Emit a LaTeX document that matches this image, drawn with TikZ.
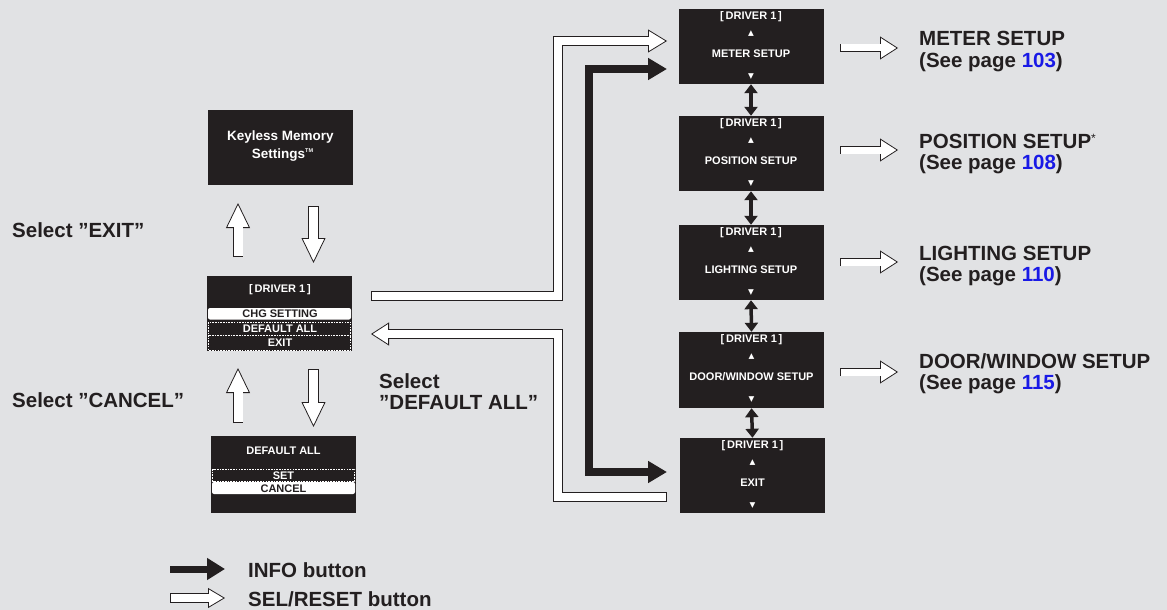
\documentclass[tikz,border=0pt]{standalone}
\usepackage{fontspec}
\setmainfont{Liberation Sans}
\newfontfamily\symf{DejaVu Sans}
\usetikzlibrary{arrows.meta,calc}
\definecolor{bg}{RGB}{225,226,228}
\definecolor{ink}{RGB}{35,31,32}
\definecolor{pg}{RGB}{25,25,230}
% #1 shaft width, #2 head length, #3 head width, #4 path
\newcommand\hollowarrow[4]{%
  \draw[draw=ink, line width={#1+1.6pt}, -{Triangle[length=#2,width=#3,fill=white,line width=0.8pt]}] #4;
  \draw[draw=white, line width=#1, shorten <=0.8pt, shorten >={#2-2.5pt}] #4;
}
\tikzset{
  scr/.style={fill=ink, draw=none, minimum width=145pt, minimum height=75pt, inner sep=0pt},
  lcd/.style={text=white, inner sep=0pt, font=\fontsize{11}{12}\selectfont\bfseries},
  tri/.style={text=white, inner sep=0pt, font=\symf\fontsize{7.5}{8}\selectfont},
  lab/.style={anchor=base west, inner sep=0pt, text=ink, font=\fontsize{20.5}{21}\selectfont\bfseries},
  solidarrow/.style={draw=ink, line width=8pt},
  dbl/.style={draw=ink, line width=3.5pt, {Triangle[length=9pt,width=13pt]}-{Triangle[length=9pt,width=13pt]}},
  selbar/.style={fill=white, rounded corners=2pt, draw=none},
  dashbox/.style={draw=white, line width=0.9pt, dash pattern=on 1.6pt off 1.1pt}
}
\begin{document}
\begin{tikzpicture}[x=1pt,y=-1pt]
\fill[bg] (0,0) rectangle (1167,610);
\useasboundingbox (0,0) rectangle (1167,610);

% ---------- left column screens ----------
\node[scr] (k) at (280.5,147.5) {};
\node[lcd, font=\fontsize{13.5}{14}\selectfont\bfseries] (k1) at (280.5,137) {Keyless Memory};
\node[lcd, font=\fontsize{13.5}{14}\selectfont\bfseries] (k2) at (282.5,155) {Settings\raisebox{5.5pt}{\fontsize{5.5}{5.5}\selectfont TM}};

\node[scr] (m0) at (279.5,313.5) {};
\node[lcd] (m0t) at (280,290) {[\,DRIVER 1\,]};
\fill[selbar] (208,308) rectangle (351,319.5);
\node[lcd, text=ink] (m0a) at (280,314) {CHG SETTING};
\draw[dashbox] (208.7,322) rectangle (350.8,335);
\draw[dashbox] (208.7,335) rectangle (350.8,350.5);
\node[lcd] (m0b) at (280,328.5) {DEFAULT ALL};
\node[lcd] (m0c) at (280,343) {EXIT};

\node[scr, minimum height=77pt] (d) at (283.5,474.5) {};
\node[lcd] (dt) at (283.5,451) {DEFAULT ALL};
\draw[dashbox] (212.7,469) rectangle (354.8,481);
\node[lcd] (da) at (283.5,475.5) {SET};
\fill[selbar] (212,482) rectangle (355,494);
\node[lcd, text=ink] (db) at (283.5,488.5) {CANCEL};

% ---------- right column screens ----------
\node[scr] (m1) at (751,46.5) {};
\node[scr] (m2) at (751,153.5) {};
\node[scr] (m3) at (751,262.5) {};
\node[scr, minimum height=76pt] (m4) at (751.5,370) {};
\node[scr] (m5) at (752.5,475.5) {};
\foreach \n/\lab in {m1/{METER SETUP}, m2/{POSITION SETUP}, m3/{LIGHTING SETUP}, m4/{DOOR/WINDOW SETUP}, m5/{EXIT}}{
  \node[lcd] (\n-t) at ($(\n.north)+(0,7.5)$) {[\,DRIVER 1\,]};
  \node[tri] (\n-u) at ($(\n.north)+(0,25)$) {▲};
  \node[lcd] (\n-l) at ($(\n.north)+(0,44.5)$) {\lab};
  \node[tri] (\n-d) at ($(\n.north)+(0,68)$) {▼};
}
\draw[dbl] (m1.south) -- (m2.north);
\draw[dbl] (m2.south) -- (m3.north);
\draw[dbl] (m3.south) -- (m4.north);
\draw[dbl] (m4.south) -- (m5.north);

% ---------- left vertical arrows ----------
\coordinate (u1a) at (238,257); \coordinate (u1b) at (238,203);
\coordinate (d1a) at (313.5,206); \coordinate (d1b) at (313.5,263);
\coordinate (u2a) at (238,423); \coordinate (u2b) at (238,368);
\coordinate (d2a) at (313.5,369); \coordinate (d2b) at (313.5,427);
\hollowarrow{9pt}{25pt}{24pt}{(u1a) -- (u1b)}
\hollowarrow{9pt}{25pt}{24pt}{(d1a) -- (d1b)}
\hollowarrow{9pt}{25pt}{24pt}{(u2a) -- (u2b)}
\hollowarrow{9pt}{25pt}{24pt}{(d2a) -- (d2b)}

% ---------- connectors menu <-> list ----------
\coordinate (w1s) at (371,296); \coordinate (w1t) at (667,41);
\hollowarrow{7.5pt}{19pt}{23pt}{(w1s) -- (558,296) -- (558,41) -- (w1t)}
\coordinate (w2s) at (667,497); \coordinate (w2t) at (371,334);
\hollowarrow{7.5pt}{18pt}{23pt}{(w2s) -- (558,497) -- (558,334) -- (w2t)}
\coordinate (ia) at (667,69); \coordinate (ib) at (667,472);
\draw[solidarrow, {Triangle[length=19pt,width=21pt]}-{Triangle[length=19pt,width=21pt]}] (ia) -- (589,69) -- (589,472) -- (ib);

% ---------- right arrows & labels ----------
\coordinate (r1a) at (840,48); \coordinate (r1b) at (898,48);
\coordinate (r2a) at (840,150); \coordinate (r2b) at (898,150);
\coordinate (r3a) at (840,262); \coordinate (r3b) at (898,262);
\coordinate (r4a) at (840,372); \coordinate (r4b) at (898,372);
\hollowarrow{7pt}{18pt}{23pt}{(r1a) -- (r1b)}
\hollowarrow{7pt}{18pt}{23pt}{(r2a) -- (r2b)}
\hollowarrow{7pt}{18pt}{23pt}{(r3a) -- (r3b)}
\hollowarrow{7pt}{18pt}{23pt}{(r4a) -- (r4b)}

\node[lab] (t1a) at (919,46) {METER SETUP};
\node[lab] (t1b) at (919,67) {(See page \textcolor{pg}{103})};
\node[lab] (t2a) at (919,148) {POSITION SETUP\raisebox{6pt}{\fontsize{12}{12}\selectfont\mdseries *}};
\node[lab] (t2b) at (919,169) {(See page \textcolor{pg}{108})};
\node[lab] (t3a) at (919,260) {LIGHTING SETUP};
\node[lab] (t3b) at (919,281) {(See page \textcolor{pg}{110})};
\node[lab] (t4a) at (919,368) {DOOR/WINDOW SETUP};
\node[lab] (t4b) at (919,389) {(See page \textcolor{pg}{115})};

% ---------- left labels ----------
\node[lab] (selx) at (12,237) {Select ''EXIT''};
\node[lab] (selc) at (12,407) {Select ''CANCEL''};
\node[lab] (seld1) at (379,388) {Select};
\node[lab] (seld2) at (379,409) {''DEFAULT ALL''};

% ---------- legend ----------
\coordinate (l1a) at (170,569); \coordinate (l1b) at (225,569);
\draw[draw=ink, line width=7pt, -{Triangle[length=18pt,width=21pt]}] (l1a) -- (l1b);
\coordinate (l2a) at (170,598); \coordinate (l2b) at (225,598);
\hollowarrow{7.5pt}{17pt}{20pt}{(l2a) -- (l2b)}
\node[lab] (leg1) at (248,577) {INFO button};
\node[lab] (leg2) at (248,606) {SEL/RESET button};
\end{tikzpicture}
\end{document}
